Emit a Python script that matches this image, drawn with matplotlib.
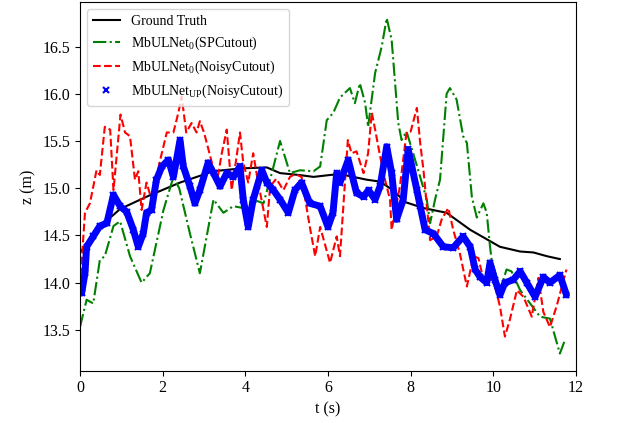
import matplotlib
matplotlib.use('Agg')
import matplotlib.pyplot as plt

plt.rcParams['font.family'] = ['Liberation Serif', 'DejaVu Serif']
plt.rcParams['mathtext.fontset'] = 'custom'
plt.rcParams['mathtext.rm'] = 'Liberation Serif'
plt.rcParams['mathtext.it'] = 'Liberation Serif:italic'

# 真值
t_gt = [0.0, 0.5, 0.97, 1.61, 2.42, 3.23, 3.9, 4.52, 4.84, 5.3, 5.65, 6.05, 6.3, 6.61, 6.94,
        7.26, 7.5, 7.74, 7.82, 8.31, 8.87, 9.44, 10.16, 10.65, 10.97, 11.3, 11.61]
z_gt = [14.32, 14.6, 14.78, 14.91, 15.06, 15.18, 15.21, 15.22, 15.16, 15.14, 15.12, 15.14,
        15.15, 15.12, 15.09, 15.07, 15.0, 14.91, 14.86, 14.79, 14.74, 14.56, 14.38, 14.33,
        14.32, 14.28, 14.25]

# SPCutout
t_sp = [0.0, 0.16, 0.32, 0.48, 0.6, 0.81, 0.97, 1.21, 1.49, 1.69, 2.02, 2.26, 2.4, 2.66, 2.9,
        3.23, 3.47, 3.71, 3.95, 4.19, 4.44, 4.64, 4.84, 5.08, 5.32, 5.65, 5.81, 5.97, 6.13,
        6.29, 6.53, 6.65, 6.77, 6.9, 6.97, 7.14, 7.3, 7.42, 7.54, 7.7, 7.78, 7.9, 8.06, 8.23,
        8.39, 8.47, 8.59, 8.71, 8.87, 8.95, 9.11, 9.27, 9.36, 9.48, 9.6, 9.76, 9.84, 9.92,
        9.96, 10.16, 10.32, 10.44, 10.65, 10.89, 11.13, 11.37, 11.61, 11.73]
z_sp = [13.53, 13.82, 13.78, 14.24, 14.28, 14.6, 14.65, 14.28, 14.0, 14.1, 14.77, 15.12, 15.0,
        14.52, 14.1, 14.88, 14.74, 14.81, 14.79, 14.88, 14.84, 15.16, 15.5, 15.16, 15.19,
        15.18, 15.23, 15.72, 15.8, 15.96, 16.06, 15.9, 16.11, 15.9, 15.65, 16.22, 16.5, 16.8,
        16.57, 15.69, 15.51, 15.6, 15.37, 15.12, 14.88, 14.63, 14.88, 15.09, 16.0, 16.06,
        15.94, 15.55, 15.48, 14.91, 14.69, 14.84, 14.74, 14.38, 14.24, 13.92, 14.14, 14.12,
        13.92, 13.78, 13.64, 13.62, 13.25, 13.39]

# NoisyCutout
t_nc = [0.0, 0.12, 0.24, 0.4, 0.48, 0.6, 0.73, 0.81, 0.98, 1.09, 1.21, 1.33, 1.41, 1.49, 1.61,
        1.73, 1.94, 2.1, 2.26, 2.38, 2.46, 2.57, 2.7, 2.82, 2.9, 3.0, 3.15, 3.31, 3.43, 3.55,
        3.67, 3.79, 3.87, 3.95, 4.07, 4.19, 4.31, 4.52, 4.6, 4.75, 4.92, 5.08, 5.2, 5.36,
        5.56, 5.69, 5.81, 6.05, 6.21, 6.29, 6.41, 6.48, 6.57, 6.69, 6.86, 6.97, 7.06, 7.14,
        7.26, 7.38, 7.5, 7.54, 7.74, 7.9, 8.0, 8.15, 8.23, 8.31, 8.47, 8.63, 8.75, 8.91, 9.03,
        9.19, 9.36, 9.52, 9.64, 9.76, 10.0, 10.16, 10.28, 10.4, 10.57, 10.73, 10.93, 11.09,
        11.21, 11.37, 11.53, 11.77]
z_nc = [13.96, 14.74, 14.84, 15.19, 15.14, 15.65, 15.62, 14.98, 15.78, 15.59, 15.55, 15.09,
        15.18, 14.77, 15.06, 14.88, 15.3, 15.59, 15.59, 15.8, 15.97, 15.59, 15.69, 15.59,
        15.71, 15.59, 15.34, 15.06, 15.37, 15.62, 14.98, 15.34, 15.59, 15.27, 15.06, 15.37,
        15.06, 14.59, 15.02, 15.1, 14.98, 15.12, 15.15, 15.12, 14.59, 14.28, 14.59, 14.21,
        14.49, 14.28, 15.06, 15.51, 15.37, 15.39, 15.16, 15.37, 15.8, 15.62, 15.34, 15.09,
        14.88, 14.56, 15.02, 15.59, 15.6, 15.85, 15.48, 15.19, 14.45, 14.49, 14.67, 14.79,
        14.56, 14.31, 13.96, 14.28, 14.26, 14.03, 14.03, 13.75, 13.43, 13.61, 13.92, 13.85,
        13.64, 14.05, 13.69, 13.53, 13.75, 14.14]

# NoisyCutout, UP
t_up = [0.0, 0.04, 0.12, 0.16, 0.32, 0.48, 0.65, 0.81, 0.97, 1.13, 1.29, 1.41, 1.53, 1.61,
        1.73, 1.85, 1.98, 2.14, 2.26, 2.42, 2.5, 2.66, 2.78, 2.9, 3.1, 3.23, 3.39, 3.55, 3.71,
        3.87, 3.95, 4.07, 4.19, 4.4, 4.52, 4.68, 4.84, 5.04, 5.2, 5.36, 5.56, 5.81, 6.0, 6.12,
        6.21, 6.29, 6.49, 6.69, 6.86, 6.98, 7.14, 7.26, 7.42, 7.54, 7.66, 7.82, 7.94, 8.15,
        8.23, 8.35, 8.55, 8.79, 9.03, 9.27, 9.44, 9.56, 9.68, 9.84, 9.92, 10.04, 10.16, 10.28,
        10.48, 10.65, 10.81, 11.01, 11.21, 11.37, 11.61, 11.77]
z_up = [13.92, 13.89, 14.1, 14.38, 14.49, 14.6, 14.63, 14.93, 14.81, 14.75, 14.56, 14.38,
        14.52, 14.74, 14.77, 15.09, 15.23, 15.3, 15.12, 15.51, 15.23, 15.02, 14.84, 14.98,
        15.27, 15.16, 15.02, 15.16, 15.12, 15.23, 14.88, 14.59, 14.88, 15.19, 15.06, 14.98,
        14.88, 14.74, 14.98, 15.06, 14.84, 14.81, 14.59, 14.74, 15.16, 15.06, 15.3, 14.95,
        14.91, 14.98, 14.88, 15.02, 15.44, 15.16, 14.67, 14.88, 15.41, 14.98, 14.81, 14.56,
        14.52, 14.38, 14.37, 14.49, 14.38, 14.14, 14.06, 14.0, 14.21, 14.03, 13.87, 14.0,
        14.03, 14.12, 14.0, 13.85, 14.06, 14.0, 14.08, 13.87]

fig = plt.figure(figsize=(6.4, 4.23), dpi=100)
ax = fig.add_axes([0.125, 0.124, 0.775, 0.871])

ax.plot(t_gt, z_gt, color='black', lw=1.5, label='Ground Truth')
ax.plot(t_sp, z_sp, color='green', lw=1.5, ls='-.', label='MbULNet$_0$(SPCutout)')
ax.plot(t_nc, z_nc, color='red', lw=1.5, ls='--', label='MbULNet$_0$(NoisyCutout)')
ax.plot(t_up, z_up, color='blue', lw=5, solid_capstyle='round', solid_joinstyle='round')
ax.plot(t_up, z_up, 'x', color='blue', ms=4, mew=1.5,
        label='MbULNet$_{\\mathrm{UP}}$(NoisyCutout)')

ax.set_xlim(0, 12)
ax.set_ylim(13.07, 16.97)
ax.set_xticks([0, 2, 4, 6, 8, 10, 12])
ax.set_yticks([13.5, 14.0, 14.5, 15.0, 15.5, 16.0, 16.5])
ax.tick_params(labelsize=11.5)
ax.set_xlabel('t (s)', fontsize=11.5)
ax.set_ylabel('z (m)', fontsize=11.5)
ax.legend(loc='upper left', fontsize=10)

fig.savefig('out.png', dpi=100)
